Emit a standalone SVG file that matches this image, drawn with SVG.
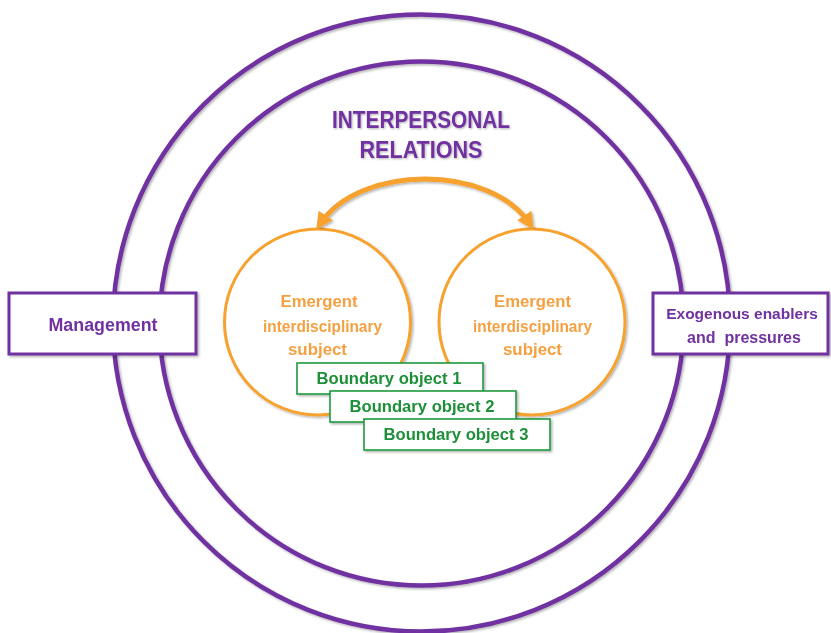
<svg xmlns="http://www.w3.org/2000/svg" width="831" height="633" viewBox="0 0 831 633">
<defs>
<filter id="sh" x="-10%" y="-10%" width="120%" height="120%">
<feDropShadow dx="1.5" dy="1.5" stdDeviation="1.2" flood-color="#000" flood-opacity="0.3"/>
</filter>
<filter id="tsh" x="-10%" y="-20%" width="120%" height="140%">
<feDropShadow dx="1" dy="1" stdDeviation="0.8" flood-color="#000" flood-opacity="0.3"/>
</filter>
<marker id="ah" viewBox="0 0 10 10" refX="6" refY="5" markerWidth="3.4" markerHeight="3.4" orient="auto-start-reverse" markerUnits="strokeWidth">
<path d="M0,0 L10,5 L0,10 z" fill="#F7A12E"/>
</marker>
</defs>
<style>
.ring{fill:none;stroke:#7030A0;stroke-width:4.5}
.pbox{fill:#fff;stroke:#7030A0;stroke-width:3}
.ptxt{font-family:"Liberation Sans",Arial,sans-serif;font-weight:bold;fill:#7030A0;text-anchor:middle}
.ocirc{fill:#fff;stroke:#F7A12E;stroke-width:3}
.otxt{font-family:"Liberation Sans",Arial,sans-serif;font-weight:bold;fill:#F5A041;text-anchor:middle;font-size:17px}
.gbox{fill:#fff;stroke:#1F9A3F;stroke-width:1.6}
.gtxt{font-family:"Liberation Sans",Arial,sans-serif;font-weight:bold;fill:#1E9038;text-anchor:middle;font-size:17px}
</style>
<rect width="831" height="633" fill="#fff"/>
<g id="outer-ring" filter="url(#sh)">
<circle class="ring" cx="421.5" cy="323" r="308.5"/>
</g>
<g id="inner-ring" filter="url(#sh)">
<circle class="ring" cx="421.5" cy="323.5" r="262"/>
</g>
<g id="title" filter="url(#tsh)">
<text class="ptxt" x="421" y="128" font-size="23" textLength="178" lengthAdjust="spacingAndGlyphs">INTERPERSONAL</text>
<text class="ptxt" x="421" y="158" font-size="23" textLength="123" lengthAdjust="spacingAndGlyphs">RELATIONS</text>
</g>
<g id="management" filter="url(#sh)">
<rect class="pbox" x="9" y="293" width="187" height="61"/>
<text class="ptxt" x="103" y="331" font-size="18" textLength="109" lengthAdjust="spacingAndGlyphs">Management</text>
</g>
<g id="exogenous" filter="url(#sh)">
<rect class="pbox" x="653" y="293" width="175" height="61"/>
<text class="ptxt" x="742" y="319" font-size="15.5">Exogenous enablers</text>
<text class="ptxt" x="744" y="343" font-size="16" xml:space="preserve">and  pressures</text>
</g>
<g id="subject-left" filter="url(#sh)">
<circle class="ocirc" cx="317.5" cy="322" r="93"/>
<text class="otxt" x="319" y="307" textLength="77" lengthAdjust="spacingAndGlyphs">Emergent</text>
<text class="otxt" x="322.5" y="332" textLength="119" lengthAdjust="spacingAndGlyphs">interdisciplinary</text>
<text class="otxt" x="317.5" y="355" textLength="59" lengthAdjust="spacingAndGlyphs">subject</text>
</g>
<g id="subject-right" filter="url(#sh)">
<circle class="ocirc" cx="532" cy="322" r="93"/>
<text class="otxt" x="532.5" y="307" textLength="77" lengthAdjust="spacingAndGlyphs">Emergent</text>
<text class="otxt" x="532.5" y="332" textLength="119" lengthAdjust="spacingAndGlyphs">interdisciplinary</text>
<text class="otxt" x="532.5" y="355" textLength="59" lengthAdjust="spacingAndGlyphs">subject</text>
</g>
<g id="connectors" filter="url(#sh)">
<path d="M320,224 C360,164 490,164 530,224" fill="none" stroke="#F7A12E" stroke-width="5" marker-start="url(#ah)" marker-end="url(#ah)"/>
</g>
<g id="boundary-object-1" filter="url(#sh)">
<rect class="gbox" x="297" y="363" width="186" height="31"/>
<text class="gtxt" x="389" y="384" textLength="145" lengthAdjust="spacingAndGlyphs">Boundary object 1</text>
</g>
<g id="boundary-object-2" filter="url(#sh)">
<rect class="gbox" x="330" y="391" width="186" height="31"/>
<text class="gtxt" x="422" y="412" textLength="145" lengthAdjust="spacingAndGlyphs">Boundary object 2</text>
</g>
<g id="boundary-object-3" filter="url(#sh)">
<rect class="gbox" x="364" y="419" width="186" height="31"/>
<text class="gtxt" x="456" y="440" textLength="145" lengthAdjust="spacingAndGlyphs">Boundary object 3</text>
</g>
</svg>
